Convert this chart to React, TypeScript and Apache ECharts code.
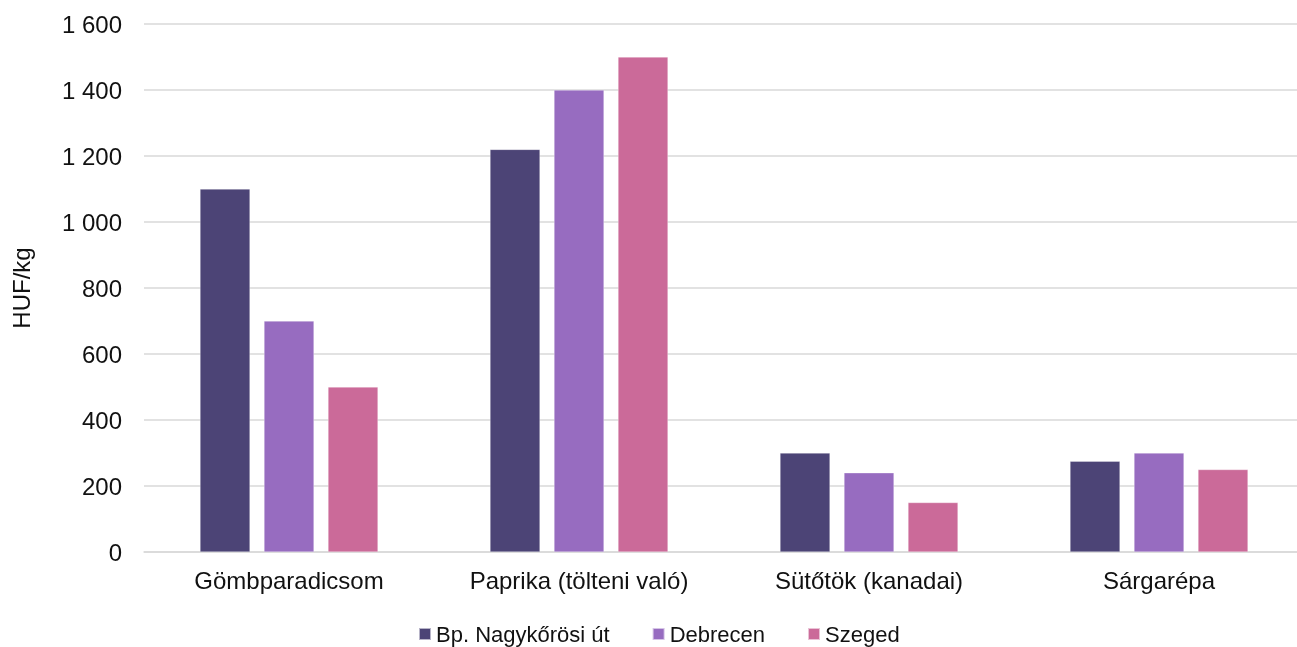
import React, { useEffect, useRef } from "react";
import * as echarts from "echarts";

const categories = ["Gömbparadicsom", "Paprika (tölteni való)", "Sütőtök (kanadai)", "Sárgarépa"];
const seriesNames = ["Bp. Nagykőrösi út", "Debrecen", "Szeged"];
const bpValues = [1100, 1220, 300, 275];
const debrecenValues = [700, 1400, 240, 300];
const szegedValues = [500, 1500, 150, 250];
const colors = ["#4c4476", "#976cc0", "#cb6a99"];

export default function App() {
  const ref = useRef<HTMLDivElement>(null);
  useEffect(() => {
    if (!ref.current) return;
    const chart = echarts.init(ref.current, undefined, { renderer: "svg" });
    const font = "Liberation Sans, Arial, sans-serif";
    const data = [bpValues, debrecenValues, szegedValues];
    chart.setOption({
      animation: false,
      color: colors,
      textStyle: { fontFamily: font },
      grid: { left: 144, width: 1160, top: 24, bottom: 95, outerBoundsMode: "none", containLabel: false },
      legend: {
        bottom: -3,
        left: 413,
        itemWidth: 12,
        itemHeight: 12,
        itemGap: 42,
        icon: "rect",
        textStyle: { fontSize: 22, color: "#111", fontFamily: font },
        data: seriesNames,
      },
      xAxis: {
        type: "category",
        data: categories,
        axisLine: { lineStyle: { color: "#d9d9d9", width: 1.5 } },
        axisTick: { show: false },
        axisLabel: { fontSize: 24, color: "#111", margin: 16, fontFamily: font },
      },
      yAxis: {
        type: "value",
        min: 0,
        max: 1600,
        interval: 200,
        name: "HUF/kg",
        nameLocation: "middle",
        nameGap: 111,
        nameRotate: 90,
        nameTextStyle: { fontSize: 24, color: "#111", fontFamily: font },
        axisLine: { show: false },
        axisTick: { show: false },
        splitLine: { lineStyle: { color: "#d9d9d9", width: 1.5 } },
        axisLabel: {
          fontSize: 24,
          color: "#111",
          margin: 22,
          fontFamily: font,
          formatter: (v: number) => String(v).replace(/\B(?=(\d{3})+(?!\d))/g, " "),
        },
      },
      series: seriesNames.map((name, i) => ({
        name,
        type: "bar",
        data: data[i],
        barWidth: 50,
        barGap: "28%",
        itemStyle: { color: colors[i], borderColor: "rgba(255,255,255,0.6)", borderWidth: 0.5 },
      })),
    });
    return () => chart.dispose();
  }, []);
  return <div ref={ref} style={{ position: "fixed", left: 0, top: 0, width: 1297, height: 647 }} />;
}
